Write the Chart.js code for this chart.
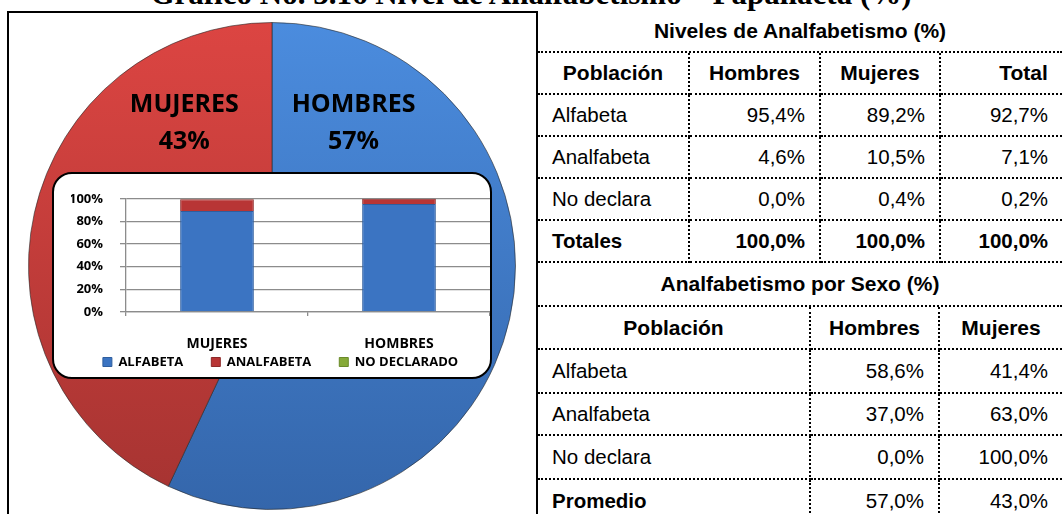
<!DOCTYPE html>
<html>
<head>
<meta charset="utf-8">
<script src="https://cdn.jsdelivr.net/npm/chart.js@4"></script>
<style>
  html, body { margin: 0; padding: 0; background: #fff; }
  body { width: 1062px; height: 514px; overflow: hidden; position: relative; font-family: "Liberation Sans", Arial, sans-serif; }
  #titulo { position: absolute; left: 0; top: -22px; width: 1062px; text-align: center; white-space: nowrap;
            font: bold 31px/31px "Liberation Serif", "Times New Roman", serif; color: #000; }
  #panel { position: absolute; left: 7px; top: 11px; width: 531px; height: 520px; box-sizing: border-box;
           border: 2px solid #000; border-bottom: none; z-index: 1; }
  #pieWrap { position: absolute; left: 28px; top: 22px; width: 488px; height: 488px; z-index: 2; }
  #inset { position: absolute; left: 52px; top: 172px; width: 440px; height: 207px; box-sizing: border-box;
           border: 2px solid #000; border-radius: 20px; background: #fff; z-index: 3; }
  #barWrap { position: absolute; left: 54px; top: 174px; width: 436px; height: 233px; z-index: 4; }
  .tabla { position: absolute; left: 538px; width: 524px; border-collapse: separate; border-spacing: 0; table-layout: fixed; z-index: 1; }
  .tabla td { padding: 0; font-size: 20.5px; color: #000; border-bottom: 2px dotted #000; white-space: nowrap; overflow: hidden; }
  .tabla td.v { border-right: 2px dotted #000; }
  .tabla .tit { text-align: center; font-weight: bold; font-size: 21px; }
  .tabla .enc { text-align: center; font-weight: bold; font-size: 21px; }
  .tabla .nom { text-align: left; padding-left: 14px; }
  .tabla .num { text-align: right; padding-right: 14px; }
  .tabla .neg { font-weight: bold; }
</style>
</head>
<body>
<div id="titulo">Gráfico No. 3.16 Nivel de Analfabetismo – Papallacta (%)</div>
<div id="panel"></div>
<div id="pieWrap"><canvas id="pieChart"></canvas></div>
<div id="inset"></div>
<div id="barWrap"><canvas id="barChart"></canvas></div>
<table class="tabla" id="tabla1" style="top:11px">
  <colgroup><col style="width:152px"><col style="width:131px"><col style="width:120px"><col style="width:121px"></colgroup>
  <tbody></tbody>
</table>
<table class="tabla" id="tabla2" style="top:263px">
  <colgroup><col style="width:273px"><col style="width:129px"><col style="width:122px"></colgroup>
  <tbody></tbody>
</table>
<script>
// niveles de analfabetismo (%)
const filas = ['Alfabeta', 'Analfabeta', 'No declara'];
const nivelHombres = [95.4, 4.6, 0.0];
const nivelMujeres = [89.2, 10.5, 0.4];
const nivelTotal   = [92.7, 7.1, 0.2];
const totales      = [100.0, 100.0, 100.0];

// analfabetismo por sexo (%)
const sexoHombres = [58.6, 37.0, 0.0];
const sexoMujeres = [41.4, 63.0, 100.0];
const promedio    = [57.0, 43.0];

// pastel
const sexos = ['HOMBRES', 'MUJERES'];
const pieVals = [57, 43];

// barras apiladas
const categorias = ['MUJERES', 'HOMBRES'];
const series = ['ALFABETA', 'ANALFABETA', 'NO DECLARADO'];
const serieMujeres = [89.2, 10.5, 0.4];
const serieHombres = [95.4, 4.6, 0.0];

const fmt = v => v.toFixed(1).replace('.', ',') + '%';

function buildTables() {
  const t1 = document.querySelector('#tabla1 tbody');
  let h = '<tr style="height:42px"><td class="tit" colspan="4">Niveles de Analfabetismo (%)</td></tr>';
  h += '<tr style="height:42px"><td class="enc v">Población</td><td class="enc v">Hombres</td><td class="enc v">Mujeres</td><td class="enc" style="padding-left:44px">Total</td></tr>';
  filas.forEach((f, i) => {
    h += `<tr style="height:42px"><td class="nom v">${f}</td><td class="num v">${fmt(nivelHombres[i])}</td><td class="num v">${fmt(nivelMujeres[i])}</td><td class="num">${fmt(nivelTotal[i])}</td></tr>`;
  });
  h += `<tr style="height:42px"><td class="nom v neg">Totales</td><td class="num v neg">${fmt(totales[0])}</td><td class="num v neg">${fmt(totales[1])}</td><td class="num neg">${fmt(totales[2])}</td></tr>`;
  t1.innerHTML = h;

  const t2 = document.querySelector('#tabla2 tbody');
  let g = '<tr style="height:44px"><td class="tit" colspan="3">Analfabetismo por Sexo (%)</td></tr>';
  g += '<tr style="height:43px"><td class="enc v">Población</td><td class="enc v">Hombres</td><td class="enc">Mujeres</td></tr>';
  const hs = [44, 42, 44];
  filas.forEach((f, i) => {
    g += `<tr style="height:${hs[i]}px"><td class="nom v">${f}</td><td class="num v">${fmt(sexoHombres[i])}</td><td class="num">${fmt(sexoMujeres[i])}</td></tr>`;
  });
  g += `<tr style="height:44px"><td class="nom v neg">Promedio</td><td class="num v">${fmt(promedio[0])}</td><td class="num">${fmt(promedio[1])}</td></tr>`;
  t2.innerHTML = g;
}
buildTables();

const pieTonos = [['#4b8cde', '#3466ab'], ['#dc4542', '#a53331']];
function pieColor(ctx) {
  const [top, bottom] = pieTonos[ctx.dataIndex];
  const a = ctx.chart.chartArea; if (!a) return top;
  const g = ctx.chart.ctx.createLinearGradient(0, a.top, 0, a.bottom);
  g.addColorStop(0, top); g.addColorStop(1, bottom);
  return g;
}

const pieLabels = {
  id: 'pieLabels',
  afterDatasetsDraw(chart) {
    const c = chart.ctx;
    const arcs = chart.getDatasetMeta(0).data;
    c.save();
    c.font = 'bold 25px "Open Sans"';
    c.fillStyle = '#000'; c.textAlign = 'center'; c.textBaseline = 'middle';
    arcs.forEach((a, i) => {
      const mid = (a.startAngle + a.endAngle) / 2;
      const side = Math.cos(mid) >= 0 ? 1 : -1;
      const x = a.x + side * (side > 0 ? 0.335 : 0.36) * a.outerRadius;
      c.fillText(chart.data.labels[i], x, a.y - 0.66 * a.outerRadius);
      c.fillText(chart.data.datasets[0].data[i] + '%', x, a.y - 0.51 * a.outerRadius);
    });
    c.restore();
  }
};

new Chart(document.getElementById('pieChart'), {
  type: 'pie',
  data: { labels: sexos, datasets: [{
    data: pieVals,
    backgroundColor: pieColor,
    borderColor: 'rgba(40,40,40,0.6)', borderWidth: 1
  }]},
  options: {
    responsive: true, maintainAspectRatio: false, animation: false,
    plugins: { legend: { display: false }, tooltip: { enabled: false } }
  },
  plugins: [pieLabels]
});

// leyenda pegada justo debajo de las etiquetas del eje x
const subirLeyenda = {
  id: 'subirLeyenda',
  beforeDraw(chart) {
    const L = chart.legend, x = chart.scales.x; if (!L || !x) return;
    const pad = L.options.labels.padding, fs = L.options.labels.font.size;
    const d = (x.bottom + 6 - pad - fs / 2) - L.top;
    L.top += d; L.bottom += d;
  }
};

const fBar = { family: '"Open Sans"', weight: 'bold', size: 13 };
const colores = ['#3b74c2', '#b83535', '#86aa38'];
const bordes  = ['#2f5e9e', '#8e2a2a', '#6a8a2a'];

new Chart(document.getElementById('barChart'), {
  type: 'bar',
  data: {
    labels: categorias,
    datasets: series.map((s, i) => ({
      label: s, data: [serieMujeres[i], serieHombres[i]],
      backgroundColor: colores[i], borderColor: bordes[i], borderWidth: 1,
      barPercentage: 0.405, categoryPercentage: 1
    }))
  },
  options: {
    responsive: true, maintainAspectRatio: false, animation: false,
    layout: { padding: { left: 17, top: 23, right: 0, bottom: 0 } },
    plugins: {
      legend: { position: 'bottom', labels: { boxWidth: 9, boxHeight: 9, padding: 28, color: '#000', font: fBar } },
      tooltip: { enabled: false }
    },
    scales: {
      x: {
        stacked: true,
        grid: { drawOnChartArea: false, tickLength: 4, color: '#8c8c8c', lineWidth: 1.3 },
        border: { color: '#8c8c8c', width: 1.3 },
        ticks: { padding: 20, color: '#000', font: { family: '"Open Sans"', weight: 'bold', size: 14 } },
        afterFit: s => { s.height = 44; }
      },
      y: {
        stacked: true, min: 0, max: 100,
        grid: { color: '#8c8c8c', lineWidth: 1.3, tickLength: 6 },
        border: { color: '#8c8c8c', width: 1.3 },
        ticks: { stepSize: 20, autoSkip: false, padding: 17, color: '#000', font: { family: '"Open Sans"', weight: 'bold', size: 13 }, callback: v => v + '%' },
        afterFit: s => { s.width = 55; }
      }
    }
  },
  plugins: [subirLeyenda]
});
</script>
</body>
</html>
